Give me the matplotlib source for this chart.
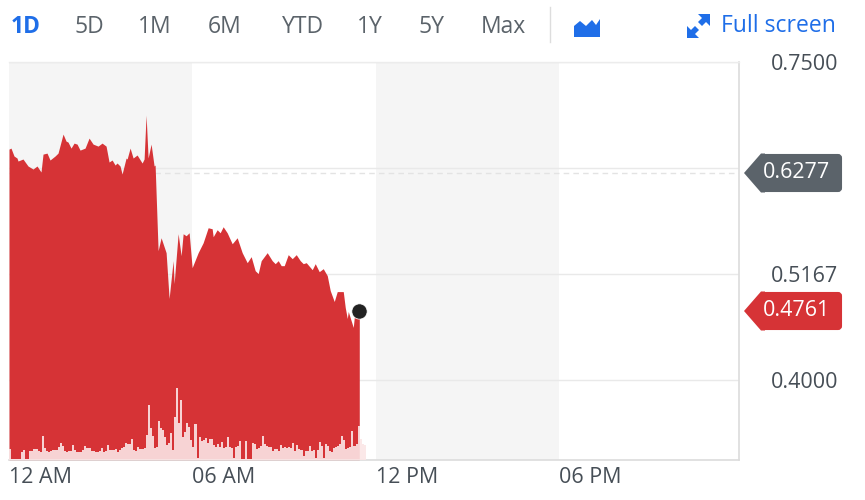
import numpy as np
import matplotlib
matplotlib.use("Agg")
import matplotlib.pyplot as plt
from matplotlib.patches import FancyBboxPatch, Polygon, Circle

plt.rcParams['font.family'] = ['Open Sans', 'DejaVu Sans']

W, H = 865, 500
RED = '#d63336'
GREY = '#5b636a'
BLUE = '#1f6ee8'
TXT = '#464e56'

# hours since midnight / price
hours = [0, .065, .164, .262, .295, .458, .622, .786, .917, 1.047, 1.113, 1.244, 1.342, 1.506, 1.604,
         1.768, 1.866, 1.931, 2.029, 2.128, 2.226, 2.324, 2.488, 2.619, 2.750, 2.913, 3.044, 3.175,
         3.273, 3.372, 3.470, 3.535, 3.633, 3.699, 3.830, 3.863, 3.961, 4.059, 4.190, 4.354, 4.419,
         4.484, 4.550, 4.648, 4.746, 4.779, 4.877, 4.975, 5.139, 5.237, 5.368, 5.401, 5.532, 5.630,
         5.696, 5.794, 5.892, 5.990, 6.187, 6.350, 6.514, 6.645, 6.678, 6.808, 6.907, 7.005, 7.136,
         7.300, 7.463, 7.627, 7.791, 7.921, 8.052, 8.151, 8.249, 8.445, 8.609, 8.707, 8.805, 8.903,
         9.002, 9.133, 9.264, 9.395, 9.526, 9.624, 9.722, 9.918, 10.016, 10.147, 10.278, 10.409,
         10.507, 10.638, 10.736, 10.933, 10.998, 11.064, 11.097, 11.260, 11.293, 11.457]
price = [.6542, .6553, .6466, .6444, .6411, .6433, .6356, .6323, .6356, .6290, .6487, .6498, .6422, .6466, .6498,
         .6707, .6630, .6619, .6553, .6608, .6597, .6531, .6553, .6663, .6597, .6575, .6608, .6575,
         .6400, .6422, .6367, .6389, .6356, .6268, .6444, .6433, .6553, .6444, .6477, .6389, .6433,
         .6915, .6444, .6597, .6356, .6367, .5425, .5567, .5403, .4899, .5315, .5063, .5611, .5370,
         .5611, .5589, .5622, .5238, .5403, .5512, .5677, .5666, .5578, .5655, .5622, .5688, .5622,
         .5501, .5567, .5403, .5293, .5359, .5205, .5173, .5315, .5403, .5315, .5282, .5315, .5260,
         .5260, .5381, .5337, .5381, .5315, .5282, .5293, .5216, .5282, .5194, .5227, .5151,
         .4986, .4866, .4975, .4975, .4800, .4679, .4756, .4581, .4690, .4679]

# volume, one bar per 4 minutes
volume = [11, 1, 1, 1, 1, 1, 8, 10, 1, 1, 9, 9, 11, 11, 9, 8, 24, 12, 9, 8, 9, 10, 10, 10, 13, 17, 14, 9, 8, 9,
          9, 15, 10, 8, 8, 8, 10, 14, 12, 12, 9, 9, 8, 8, 9, 12, 8, 9, 15, 10, 10, 10, 11, 8, 10, 12, 13, 17, 16, 16,
          21, 10, 9, 13, 11, 11, 12, 25, 55, 32, 24, 12, 13, 39, 32, 30, 23, 15, 17, 27, 10, 43, 72, 37, 60, 23, 28, 37, 33, 20,
          13, 36, 2, 23, 19, 20, 22, 17, 21, 21, 15, 13, 16, 13, 18, 12, 13, 23, 13, 12, 2, 13, 14, 19, 1, 1, 19, 1, 1, 17,
          16, 11, 12, 14, 24, 16, 14, 13, 13, 9, 11, 11, 9, 15, 12, 13, 12, 13, 12, 17, 9, 15, 11, 10, 4, 9, 9, 14, 9, 10,
          2, 10, 18, 14, 2, 16, 14, 9, 8, 12, 13, 14, 16, 24, 20, 11, 12, 13, 29, 14, 16, 34, 21, 16, 15]
volume_hours = np.arange(len(volume)) * 4 / 60

y_ticks = [0.75, 0.6333, 0.5167, 0.40]
y_labels = ['0.7500', '', '0.5167', '0.4000']
x_ticks = [0, 6, 12, 18]
x_labels = ['12 AM', '06 AM', '12 PM', '06 PM']
shaded = [(0, 6), (12, 18)]
prev_close = 0.6277
last_price = 0.4761
tabs = ['1D', '5D', '1M', '6M', 'YTD', '1Y', '5Y', 'Max']
tab_x = [26, 89, 155, 225, 303, 370, 432, 503]

fig = plt.figure(figsize=(W / 100, H / 100), dpi=100)
L, R, T, B = 9, 738.5, 62, 460
ax = fig.add_axes([L / W, 1 - B / H, (R - L) / W, (B - T) / H])
ax.set_xlim(0, 23.86)
ax.set_ylim(0.3123, 0.7485)

for a, b in shaded:
    ax.axvspan(a, b, color='#f5f5f5', lw=0, zorder=0)
for t in y_ticks:
    ax.axhline(t, color='#e9e9e9', lw=1, zorder=1)
ax.axhline(prev_close, color='#e3e3e3', lw=1, ls=(0, (4, 3)), zorder=1)

ax.fill_between(hours, price, 0.3123, color=RED, lw=0, zorder=2)
ax.plot([hours[-1]], [last_price], 'o', color='#222222', ms=11, mec='white', mew=0.5, zorder=5, clip_on=False)

vax = ax.twinx()
vax.set_ylim(0, B - T)
vax.bar(volume_hours, volume, width=4 / 60, align='edge', color='#fbe6e6', alpha=0.9, lw=0, zorder=3)
vax.set_yticks([])
for s in vax.spines.values():
    s.set_visible(False)

ax.set_xticks(x_ticks)
ax.set_xticklabels(x_labels, ha='left', fontsize=15.5, color=TXT)
ax.tick_params(axis='x', length=0, pad=5)
ax.yaxis.tick_right()
ax.set_yticks(y_ticks)
ax.set_yticklabels(y_labels, fontsize=15.5, color=TXT)
ax.tick_params(axis='y', length=0, pad=23)
for name, s in ax.spines.items():
    s.set_color('#dcdcdc')
    s.set_linewidth(1.2)
ax.spines['left'].set_visible(False)
ax.spines['top'].set_color('#ececec')
ax.spines['top'].set_linewidth(1)

# chrome: tabs, icons and price flags, in pixel coordinates
ov = fig.add_axes([0, 0, 1, 1], facecolor='none')
ov.set_xlim(0, W)
ov.set_ylim(H, 0)
ov.axis('off')

for i, (lab, x) in enumerate(zip(tabs, tab_x)):
    ov.text(x, 27, lab, ha='center', va='center', fontsize=16.5,
            color=BLUE if i == 0 else GREY, fontweight='bold' if i == 0 else 'normal')
ov.plot([550, 550], [7, 42], color='#dddddd', lw=1)
ov.add_patch(Polygon([(574, 37), (574, 26), (580, 21), (586, 26), (592, 20), (596, 25), (600, 19), (600, 37)],
                     color=BLUE, lw=0))
ov.text(721, 26, 'Full screen', ha='left', va='center', fontsize=16.5, color=BLUE)
ov.add_patch(Polygon([(698, 14), (710, 14), (710, 26), (706, 22), (702, 26), (698, 22), (702, 18)], color=BLUE, lw=0))
ov.add_patch(Polygon([(687, 38), (699, 38), (695, 34), (699, 30), (695, 26), (691, 30), (687, 26)], color=BLUE, lw=0))


def flag(yc, color, label):
    ov.add_patch(FancyBboxPatch((762, yc - 18), 79, 36, boxstyle='round,pad=0,rounding_size=3', fc=color, ec=color, lw=1.5))
    ov.add_patch(Polygon([(744, yc), (761, yc - 19.5), (765, yc - 19.5), (765, yc + 19.5), (761, yc + 19.5)], fc=color, lw=0))
    ov.text(797, yc, label, ha='center', va='center', fontsize=15.5, color='white', fontweight='medium')


flag(173, GREY, f'{prev_close:.4f}')
flag(311, RED, f'{last_price:.4f}')

fig.savefig('out.png', dpi=100)
